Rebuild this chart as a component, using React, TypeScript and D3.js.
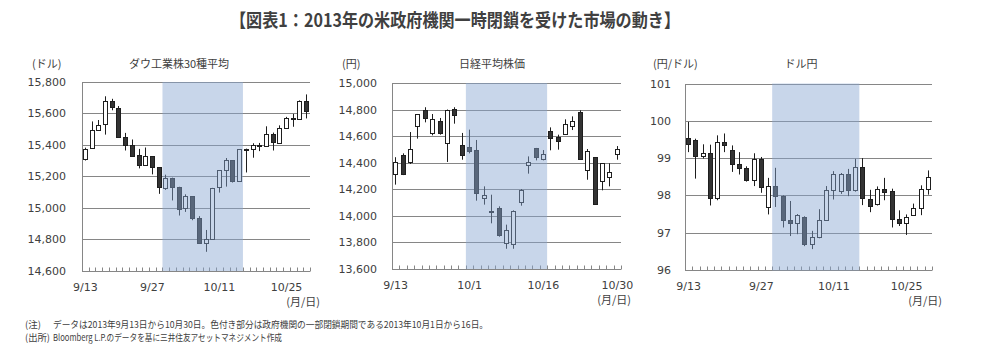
import { useRef, useEffect } from 'react';
import * as d3 from 'd3';

// US trading days (also used for the dollar/yen panel)
const dowDates = [
  '9/13', '9/16', '9/17', '9/18', '9/19', '9/20', '9/23', '9/24', '9/25', '9/26', '9/27', '9/30',
  '10/1', '10/2', '10/3', '10/4', '10/7', '10/8', '10/9', '10/10', '10/11', '10/14', '10/15', '10/16',
  '10/17', '10/18', '10/21', '10/22', '10/23', '10/24', '10/25', '10/28', '10/29', '10/30',
];

// [open, high, low, close]
const dowCandles = [
  [15315, 15382, 15300, 15376], [15378, 15549, 15376, 15494], [15500, 15558, 15495, 15529],
  [15529, 15709, 15465, 15676], [15676, 15693, 15620, 15636], [15636, 15647, 15448, 15451],
  [15451, 15476, 15364, 15401], [15402, 15434, 15325, 15334], [15334, 15374, 15250, 15273],
  [15273, 15383, 15268, 15328], [15328, 15328, 15212, 15258], [15258, 15258, 15088, 15130],
  [15130, 15210, 15113, 15191], [15191, 15191, 15046, 15133], [15133, 15133, 14950, 14996],
  [14996, 15085, 14973, 15073], [15073, 15073, 14920, 14936], [14936, 14946, 14776, 14776],
  [14776, 14858, 14719, 14802], [14802, 15126, 14802, 15126], [15126, 15237, 15096, 15237],
  [15237, 15316, 15134, 15301], [15301, 15302, 15160, 15168], [15168, 15373, 15168, 15373],
  [15373, 15376, 15224, 15371], [15371, 15410, 15318, 15399], [15399, 15412, 15360, 15392],
  [15392, 15518, 15390, 15467], [15467, 15478, 15364, 15413], [15413, 15524, 15406, 15509],
  [15509, 15578, 15505, 15570], [15570, 15597, 15515, 15568], [15568, 15683, 15565, 15680],
  [15680, 15721, 15568, 15618],
];
const dowTicks = [14600, 14800, 15000, 15200, 15400, 15600, 15800];
const dowLabels = ['9/13', '9/27', '10/11', '10/25'];

// Tokyo trading days
const nikkeiDates = [
  '9/13', '9/17', '9/18', '9/19', '9/20', '9/24', '9/25', '9/26', '9/27', '9/30',
  '10/1', '10/2', '10/3', '10/4', '10/7', '10/8', '10/9', '10/10', '10/11', '10/15', '10/16',
  '10/17', '10/18', '10/21', '10/22', '10/23', '10/24', '10/25', '10/28', '10/29', '10/30',
];
const nikkeiCandles = [
  [14316, 14440, 14233, 14404], [14454, 14469, 14305, 14311], [14409, 14630, 14389, 14505],
  [14678, 14766, 14580, 14766], [14799, 14817, 14703, 14742], [14625, 14766, 14605, 14732],
  [14713, 14736, 14610, 14620], [14552, 14800, 14404, 14799], [14804, 14817, 14693, 14760],
  [14529, 14623, 14421, 14455], [14514, 14648, 14469, 14484], [14494, 14570, 14112, 14170],
  [14137, 14220, 14082, 14157], [14031, 14157, 13941, 14024], [14054, 14069, 13840, 13853],
  [13797, 13931, 13749, 13894], [13790, 14039, 13749, 14037], [14102, 14200, 14074, 14194],
  [14379, 14446, 14316, 14404], [14507, 14510, 14416, 14441], [14429, 14494, 14416, 14467],
  [14638, 14665, 14492, 14586], [14592, 14610, 14497, 14561], [14620, 14726, 14615, 14693],
  [14673, 14748, 14645, 14711], [14781, 14794, 14426, 14426], [14341, 14502, 14270, 14487],
  [14439, 14439, 14087, 14088], [14258, 14396, 14190, 14394], [14288, 14394, 14220, 14326],
  [14462, 14524, 14421, 14499],
];
const nikkeiTicks = [13600, 13800, 14000, 14200, 14400, 14600, 14800, 15000];
const nikkeiLabels = ['9/13', '10/1', '10/16', '10/30'];

const fxDates = dowDates;
const fxCandles = [
  [99.53, 99.97, 99.16, 99.37], [99.49, 99.52, 98.45, 99.06], [99.06, 99.37, 98.99, 99.13],
  [99.13, 99.36, 97.73, 97.93], [97.93, 99.61, 97.87, 99.42], [99.42, 99.66, 99.16, 99.34],
  [99.21, 99.34, 98.63, 98.83], [98.83, 99.16, 98.56, 98.73], [98.73, 98.78, 98.37, 98.41],
  [98.41, 99.13, 98.25, 98.98], [98.98, 99.03, 98.07, 98.22], [97.69, 98.47, 97.49, 98.25],
  [98.25, 98.74, 97.69, 97.98], [97.98, 98.0, 97.14, 97.33], [97.34, 97.85, 96.91, 97.25],
  [97.25, 97.5, 96.96, 97.47], [97.42, 97.44, 96.64, 96.69], [96.69, 97.05, 96.56, 96.89],
  [96.89, 97.63, 96.85, 97.34], [97.34, 98.25, 97.34, 98.14], [98.14, 98.65, 97.89, 98.58],
  [98.11, 98.6, 98.04, 98.57], [98.57, 98.71, 97.98, 98.13], [98.13, 98.98, 98.1, 98.75],
  [98.75, 99.0, 97.74, 97.91], [97.91, 98.15, 97.55, 97.72], [97.78, 98.24, 97.73, 98.17],
  [98.18, 98.47, 97.87, 98.11], [98.11, 98.18, 97.14, 97.37], [97.37, 97.6, 97.18, 97.26],
  [97.26, 97.49, 96.94, 97.42], [97.47, 97.78, 97.45, 97.66], [97.66, 98.27, 97.47, 98.17],
  [98.17, 98.67, 98.02, 98.5],
];
const fxTicks = [96, 97, 98, 99, 100, 101];
const fxLabels = ['9/13', '9/27', '10/11', '10/25'];

// government shutdown period
const shutdown = ['10/1', '10/16'];

const LATIN = "'DejaVu Sans', 'Noto Sans CJK JP', sans-serif";
const JP = "'Noto Sans CJK JP', sans-serif";
const TEXT = '#404040';
const GRID = '#868686';

const panels = [
  {
    title: 'ダウ工業株30種平均', unit: '(ドル)', dates: dowDates, candles: dowCandles,
    ticks: dowTicks, labels: dowLabels, format: d3.format(','),
    left: 82, right: 310, top: 82, bottom: 270.5, titleX: 179, unitX: 32, valueX: 66,
  },
  {
    title: '日経平均株価', unit: '(円)', dates: nikkeiDates, candles: nikkeiCandles,
    ticks: nikkeiTicks, labels: nikkeiLabels, format: d3.format(','),
    left: 392, right: 621, top: 83, bottom: 268.5, titleX: 492, unitX: 342, valueX: 377,
  },
  {
    title: 'ドル円', unit: '(円/ドル)', dates: fxDates, candles: fxCandles,
    ticks: fxTicks, labels: fxLabels, format: d3.format('d'),
    left: 685, right: 932, top: 83.5, bottom: 270, titleX: 801, unitX: 653, valueX: 671,
  },
];

const crisp = (v: number) => Math.round(v) + 0.5;

function drawPanel(svg: d3.Selection<SVGSVGElement, unknown, null, undefined>, p: typeof panels[0]) {
  const x = d3.scaleBand().domain(p.dates).range([p.left, p.right]);
  const y = d3
    .scaleLinear()
    .domain([p.ticks[0], p.ticks[p.ticks.length - 1]])
    .range([p.bottom, p.top]);
  const bw = x.bandwidth();
  const bodyW = Math.max(3, Math.round(bw * 0.68));

  const g = svg.append('g');

  // gridlines
  g.selectAll('line.grid')
    .data(p.ticks.slice(1))
    .enter()
    .append('line')
    .attr('x1', p.left)
    .attr('x2', p.right)
    .attr('y1', (d) => crisp(y(d)))
    .attr('y2', (d) => crisp(y(d)))
    .attr('stroke', GRID)
    .attr('stroke-width', 1);

  // axes
  g.append('line')
    .attr('x1', crisp(p.left)).attr('x2', crisp(p.left))
    .attr('y1', crisp(y(p.ticks[p.ticks.length - 1]))).attr('y2', crisp(p.bottom))
    .attr('stroke', GRID);
  g.append('line')
    .attr('x1', p.left).attr('x2', p.right)
    .attr('y1', crisp(p.bottom)).attr('y2', crisp(p.bottom))
    .attr('stroke', GRID);
  g.selectAll('line.xtick')
    .data(d3.range(p.dates.length + 1))
    .enter()
    .append('line')
    .attr('x1', (i) => crisp(p.left + i * bw))
    .attr('x2', (i) => crisp(p.left + i * bw))
    .attr('y1', crisp(p.bottom))
    .attr('y2', crisp(p.bottom) - 4)
    .attr('stroke', GRID);

  // candles
  const c = g.selectAll('g.candle')
    .data(p.candles.map((v, i) => ({ date: p.dates[i], o: v[0], h: v[1], l: v[2], c: v[3] })))
    .enter()
    .append('g');

  c.append('line')
    .attr('x1', (d) => crisp(x(d.date)! + bw / 2 - 0.5))
    .attr('x2', (d) => crisp(x(d.date)! + bw / 2 - 0.5))
    .attr('y1', (d) => y(d.h))
    .attr('y2', (d) => y(d.l))
    .attr('stroke', '#1e1e1e')
    .attr('stroke-width', 1);

  c.append('rect')
    .attr('x', (d) => Math.round(x(d.date)! + (bw - bodyW) / 2) + 0.5)
    .attr('y', (d) => Math.round(y(Math.max(d.o, d.c))) + 0.5)
    .attr('width', bodyW - 1)
    .attr('height', (d) => Math.max(1, Math.round(Math.abs(y(d.o) - y(d.c)))))
    .attr('fill', (d) => (d.c < d.o ? '#333333' : '#ffffff'))
    .attr('stroke', '#1e1e1e')
    .attr('stroke-width', 1);

  // shutdown shading, laid over the candles
  const sx0 = x(shutdown[0])!;
  const sx1 = x(shutdown[1])! + bw;
  g.append('rect')
    .attr('x', sx0)
    .attr('y', y(p.ticks[p.ticks.length - 1]))
    .attr('width', sx1 - sx0)
    .attr('height', p.bottom + 0.5 - y(p.ticks[p.ticks.length - 1]))
    .attr('fill', 'rgb(135,166,209)')
    .attr('opacity', 0.46);

  // y labels
  g.selectAll('text.ylab')
    .data(p.ticks)
    .enter()
    .append('text')
    .attr('x', p.valueX)
    .attr('y', (d) => y(d) + 4)
    .attr('text-anchor', 'end')
    .attr('font-family', LATIN)
    .attr('font-size', 11)
    .attr('fill', TEXT)
    .text((d) => p.format(d));

  // x labels
  g.selectAll('text.xlab')
    .data(p.labels)
    .enter()
    .append('text')
    .attr('x', (d) => x(d)! + bw / 2)
    .attr('y', p.bottom + 20)
    .attr('text-anchor', 'middle')
    .attr('font-family', LATIN)
    .attr('font-size', 11)
    .attr('fill', TEXT)
    .text((d) => d);

  g.append('text')
    .attr('x', p.right + 10)
    .attr('y', p.bottom + 35)
    .attr('text-anchor', 'end')
    .attr('font-family', JP)
    .attr('font-size', 11)
    .attr('fill', TEXT)
    .text('(月/日)');

  g.append('text')
    .attr('x', p.titleX)
    .attr('y', 68)
    .attr('text-anchor', 'middle')
    .attr('font-family', JP)
    .attr('font-size', 11)
    .attr('fill', TEXT)
    .text(p.title);

  g.append('text')
    .attr('x', p.unitX)
    .attr('y', 68)
    .attr('font-family', JP)
    .attr('font-size', 11)
    .attr('fill', TEXT)
    .text(p.unit);
}

export default function App() {
  const ref = useRef<SVGSVGElement>(null);

  useEffect(() => {
    if (!ref.current) return;
    const svg = d3.select(ref.current);
    svg.selectAll('*').remove();

    svg.append('rect').attr('width', 985).attr('height', 361).attr('fill', '#fff');

    svg.append('text')
      .attr('x', 230)
      .attr('y', 27)
      .attr('font-family', JP)
      .attr('font-weight', 'bold')
      .attr('font-size', 18.5)
      .attr('fill', TEXT)
      .attr('textLength', 450)
      .attr('lengthAdjust', 'spacingAndGlyphs')
      .text('【図表1：2013年の米政府機関一時閉鎖を受けた市場の動き】');

    panels.forEach((p) => drawPanel(svg, p));

    // notes
    const notes = [
      ['(注)', 16, 'データは2013年9月13日から10月30日。色付き部分は政府機関の一部閉鎖期間である2013年10月1日から16日。', 435, 328],
      ['(出所)', 25, 'Bloomberg L.P.のデータを基に三井住友アセットマネジメント作成', 229, 341],
    ] as const;
    notes.forEach(([head, headLen, body, len, yy]) => {
      svg.append('text')
        .attr('x', 25).attr('y', yy)
        .attr('font-family', JP).attr('font-size', 9.5).attr('fill', TEXT)
        .attr('textLength', headLen)
        .attr('lengthAdjust', 'spacingAndGlyphs')
        .text(head);
      svg.append('text')
        .attr('x', 53).attr('y', yy)
        .attr('font-family', JP).attr('font-size', 9.5).attr('fill', TEXT)
        .attr('textLength', len)
        .attr('lengthAdjust', 'spacingAndGlyphs')
        .text(body);
    });
  }, []);

  return (
    <svg
      ref={ref}
      width={985}
      height={361}
      style={{ position: 'absolute', left: 0, top: 0 }}
    />
  );
}
